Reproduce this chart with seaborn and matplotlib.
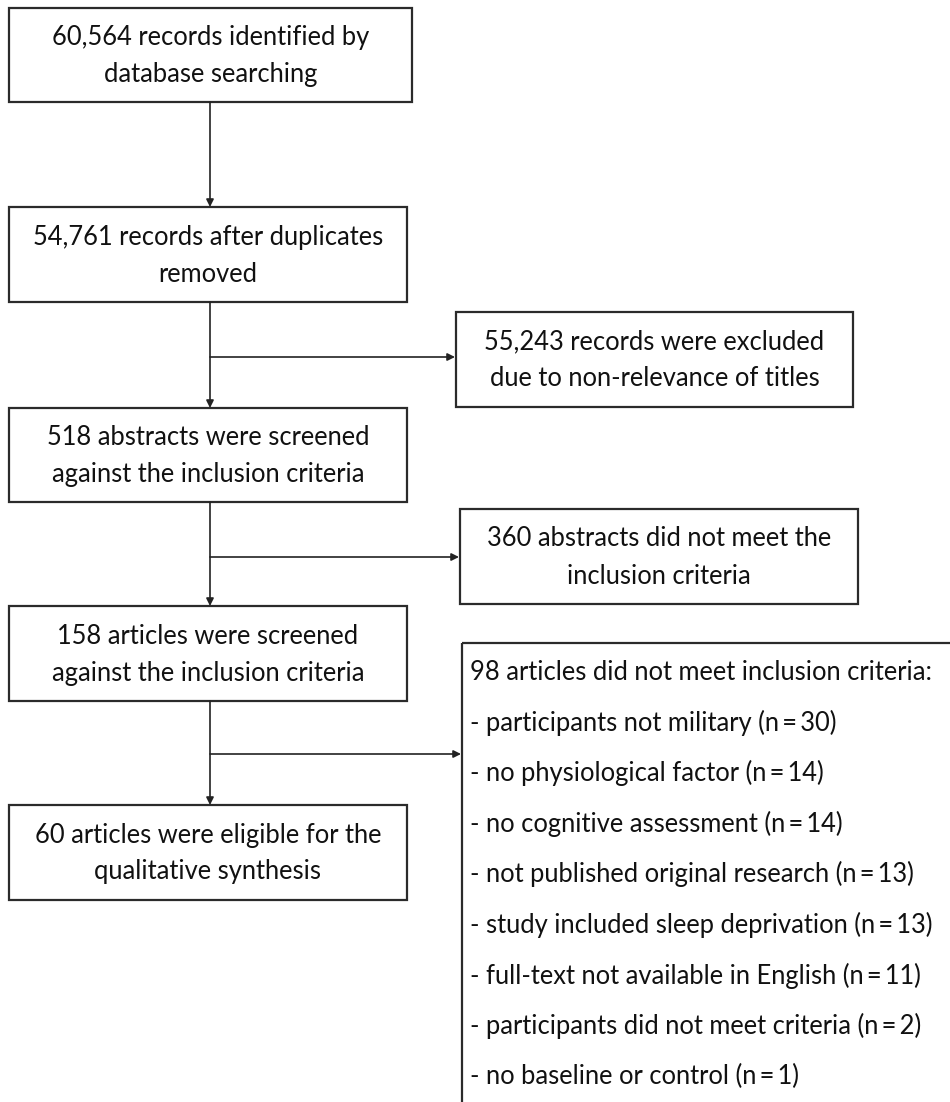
import matplotlib
matplotlib.use("Agg")
import matplotlib.pyplot as plt
import seaborn as sns
from matplotlib.patches import Rectangle

# ---- content ----
main_steps = [
    "60,564 records identified by\ndatabase searching",
    "54,761 records after duplicates\nremoved",
    "518 abstracts were screened\nagainst the inclusion criteria",
    "158 articles were screened\nagainst the inclusion criteria",
    "60 articles were eligible for the\nqualitative synthesis",
]
exclusions = [
    "55,243 records were excluded\ndue to non-relevance of titles",
    "360 abstracts did not meet the\ninclusion criteria",
]
final_header = "98 articles did not meet inclusion criteria:"
reasons = [
    "participants not military",
    "no physiological factor",
    "no cognitive assessment",
    "not published original research",
    "study included sleep deprivation",
    "full-text not available in English",
    "participants did not meet criteria",
    "no baseline or control",
]
reason_counts = [30, 14, 14, 13, 13, 11, 2, 1]

# ---- layout (pixels, y downwards) ----
main_boxes = [(9, 8, 412, 102), (9, 207, 407, 302), (9, 408, 407, 502),
              (9, 606, 407, 701), (9, 805, 407, 900)]
excl_boxes = [(456, 312, 853, 407), (460, 509, 858, 604)]
big_box = (462, 643, 960, 1130)
spine_x = 210
branch_y = [357, 557, 754]

sns.set_theme(style="white")
plt.rcParams['font.family'] = ['Lato', 'DejaVu Sans']

fig = plt.figure(figsize=(9.5, 11.02), dpi=100)
ax = fig.add_axes([0, 0, 1, 1])
ax.set_xlim(0, 950)
ax.set_ylim(1102, 0)
ax.axis('off')

edge = '#2b2b2b'
fs = 18.4
tc = '#111111'

def box(b, txt=None):
    x0, y0, x1, y1 = b
    ax.add_patch(Rectangle((x0, y0), x1 - x0, y1 - y0, fill=False,
                           edgecolor=edge, lw=1.6, clip_on=True))
    if txt:
        ax.text((x0 + x1) / 2, (y0 + y1) / 2 + 1, txt, ha='center', va='center',
                fontsize=fs, color=tc, linespacing=1.6)

for b, t in zip(main_boxes, main_steps):
    box(b, t)
for b, t in zip(excl_boxes, exclusions):
    box(b, t)
box(big_box)

lines = [final_header] + [f"- {r} (n\u2009=\u2009{c})" for r, c in zip(reasons, reason_counts)]
y = 672
for ln in lines:
    ax.text(470, y, ln, ha='left', va='center', fontsize=fs, color=tc)
    y += 50.6

ap = dict(arrowstyle='-|>', color='#222222', lw=1.2, mutation_scale=11,
          shrinkA=0, shrinkB=0)
for a, b in zip(main_boxes[:-1], main_boxes[1:]):
    ax.annotate("", xy=(spine_x, b[1]), xytext=(spine_x, a[3]), arrowprops=ap)

targets = [excl_boxes[0][0], excl_boxes[1][0], big_box[0]]
for yy, tx in zip(branch_y, targets):
    ax.annotate("", xy=(tx - 1, yy), xytext=(spine_x, yy), arrowprops=ap)

fig.savefig("out.png", dpi=100, facecolor='white')
